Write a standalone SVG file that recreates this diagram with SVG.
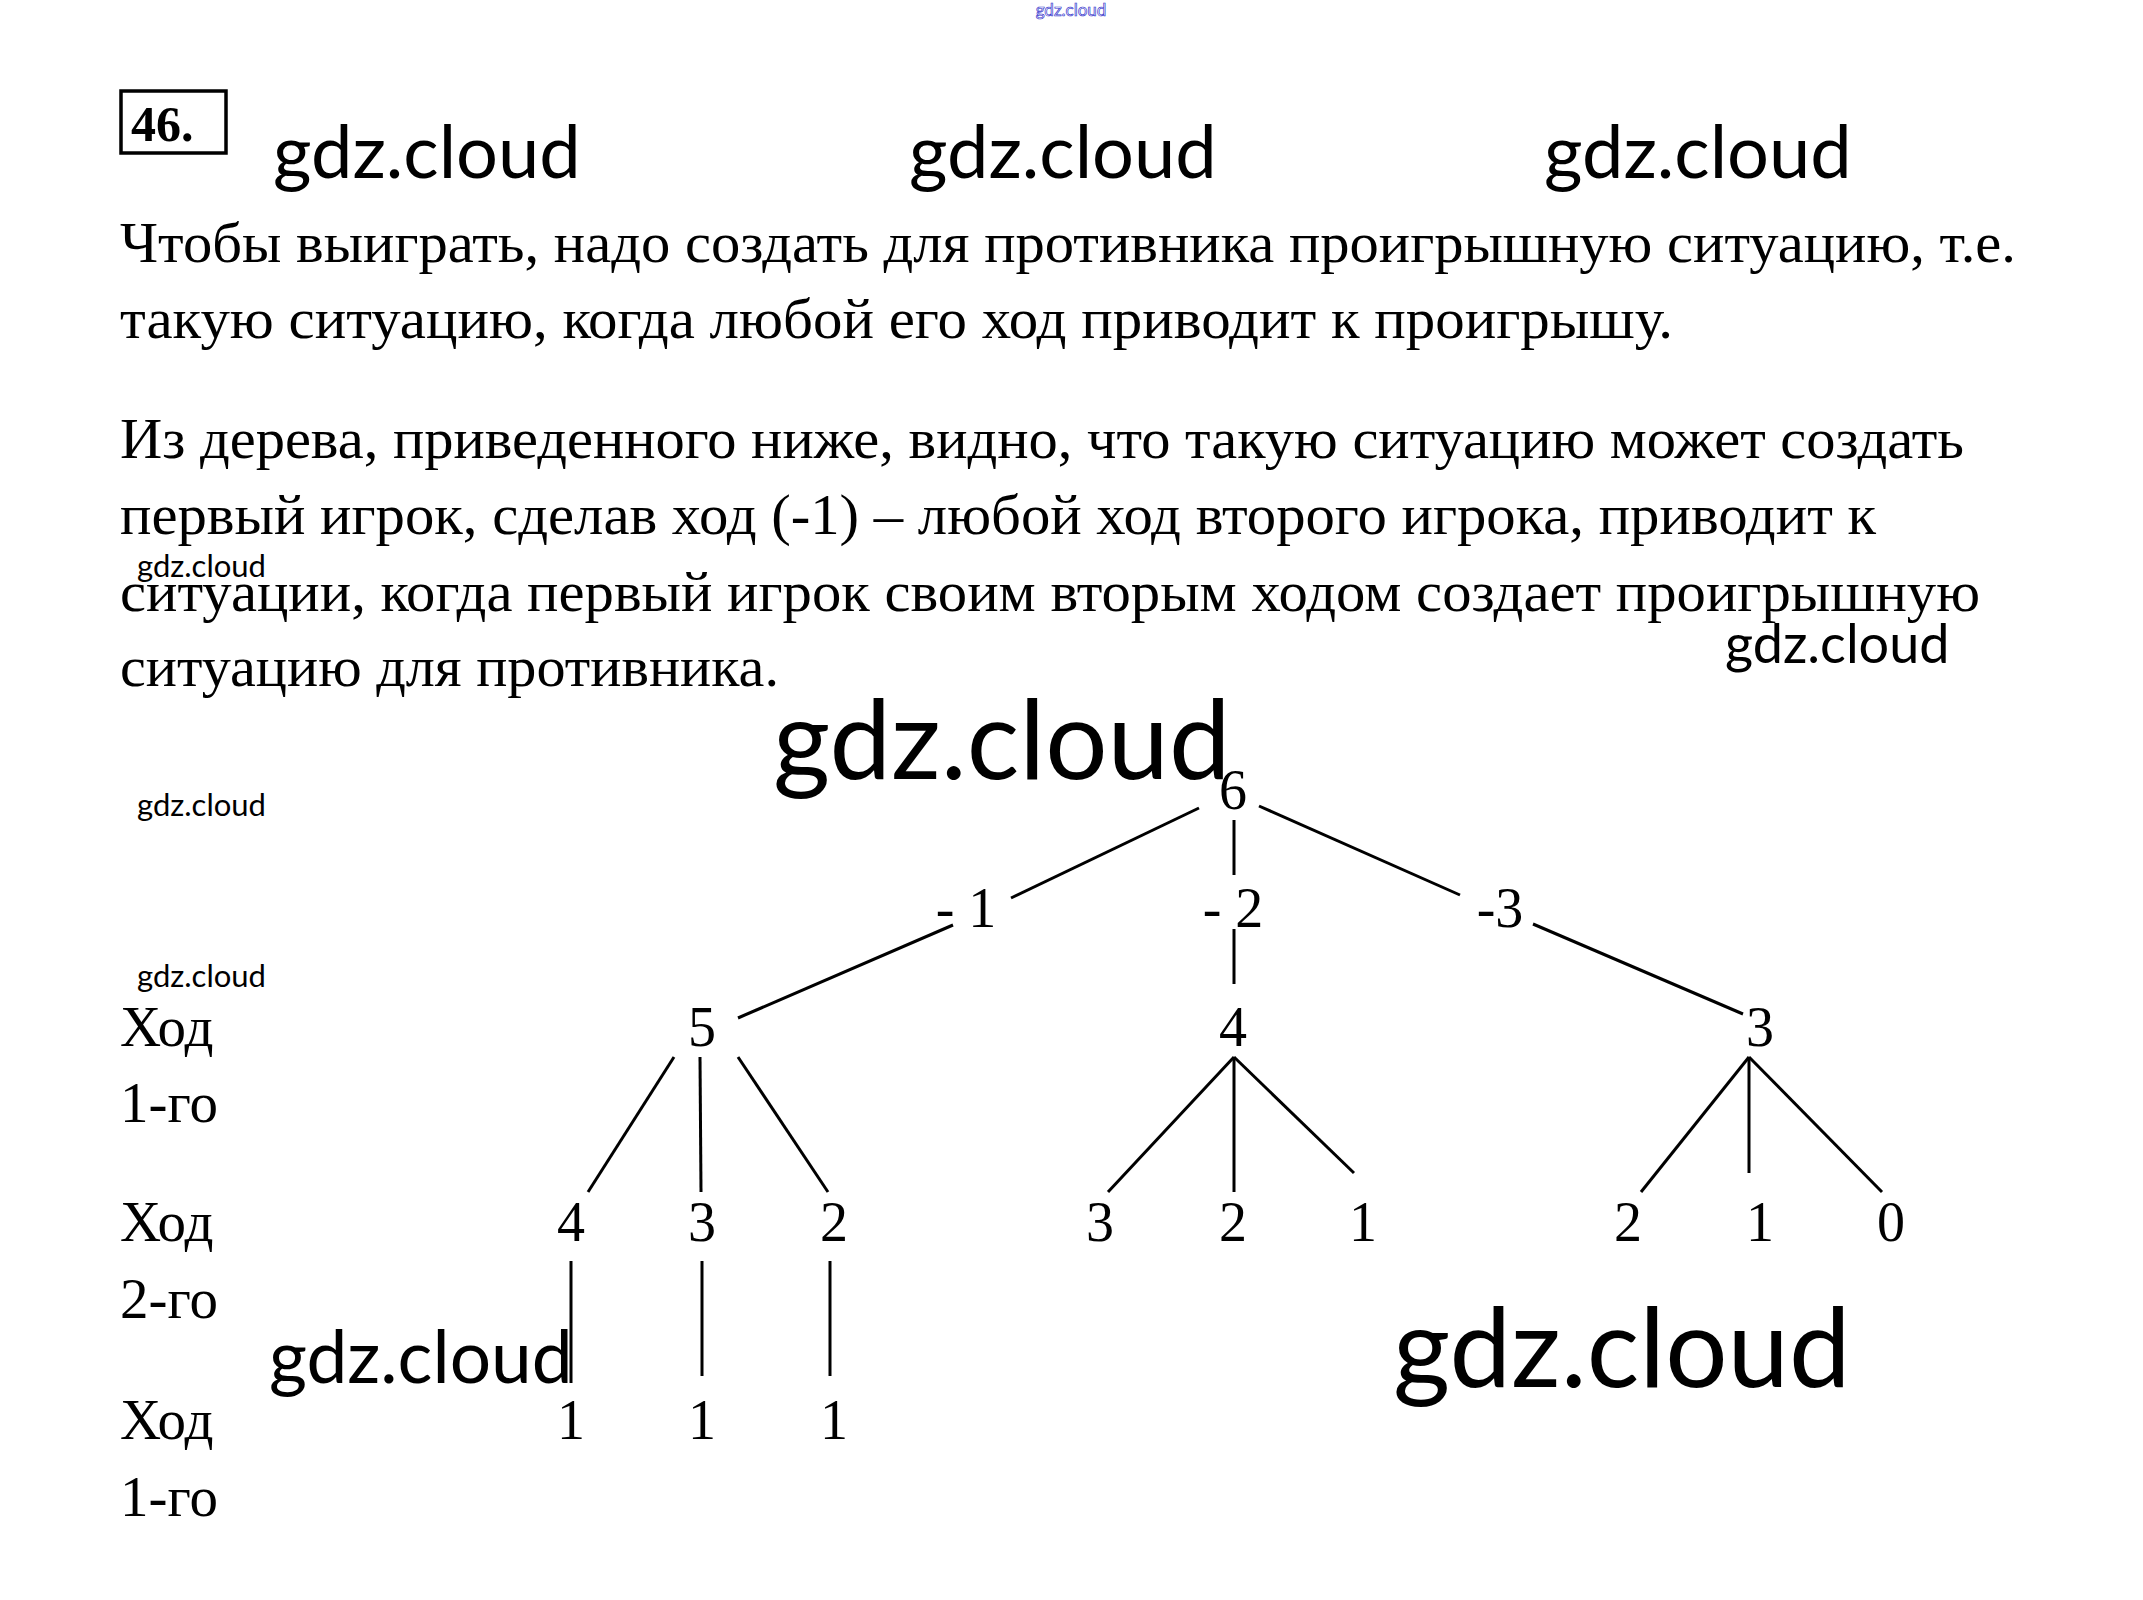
<svg xmlns="http://www.w3.org/2000/svg" width="2143" height="1600" viewBox="0 0 2143 1600">
<style>
.t{font-family:"Liberation Serif","Times New Roman",serif;font-size:57px;fill:#000}
.n{font-family:"Liberation Serif","Times New Roman",serif;font-size:56px;fill:#000;text-anchor:middle}
.w{font-family:Lato,"Open Sans",sans-serif;fill:#000}
.e{stroke:#000;stroke-width:3;fill:none}
</style>
<rect width="2143" height="1600" fill="#fff"/>
<g id="header">
<rect x="121" y="91" width="105" height="62" fill="none" stroke="#000" stroke-width="3.5"/>
<text x="131" y="141" style="font-family:'Liberation Serif',serif;font-size:50px;font-weight:bold">46.</text>
</g>
<g id="watermarks">
<text x="1071" y="16" class="w" style="font-size:17px;fill:none;stroke:#33c;stroke-width:0.7" text-anchor="middle">gdz.cloud</text>
<text x="273" y="178" class="w" font-size="74">gdz.cloud</text>
<text x="909" y="178" class="w" font-size="74">gdz.cloud</text>
<text x="1544" y="178" class="w" font-size="74">gdz.cloud</text>
<text x="137" y="577" class="w" font-size="31">gdz.cloud</text>
<text x="1725" y="663" class="w" font-size="54">gdz.cloud</text>
<text x="773" y="779" class="w" font-size="110">gdz.cloud</text>
<text x="137" y="816" class="w" font-size="31">gdz.cloud</text>
<text x="137" y="987" class="w" font-size="31">gdz.cloud</text>
<text x="269" y="1383" class="w" font-size="73">gdz.cloud</text>
<text x="1393" y="1387" class="w" font-size="110">gdz.cloud</text>
</g>
<g id="paragraph">
<text x="120" y="262" class="t" textLength="1896" lengthAdjust="spacingAndGlyphs">Чтобы выиграть, надо создать для противника проигрышную ситуацию, т.е.</text>
<text x="120" y="338" class="t" textLength="1553" lengthAdjust="spacingAndGlyphs">такую ситуацию, когда любой его ход приводит к проигрышу.</text>
<text x="120" y="458" class="t" textLength="1844" lengthAdjust="spacingAndGlyphs">Из дерева, приведенного ниже, видно, что такую ситуацию может создать</text>
<text x="120" y="534" class="t" textLength="1756" lengthAdjust="spacingAndGlyphs">первый игрок, сделав ход (-1) – любой ход второго игрока, приводит к</text>
<text x="120" y="611" class="t" textLength="1860" lengthAdjust="spacingAndGlyphs">ситуации, когда первый игрок своим вторым ходом создает проигрышную</text>
<text x="120" y="686" class="t" textLength="659" lengthAdjust="spacingAndGlyphs">ситуацию для противника.</text>
</g>
<g id="row-labels">
<text x="120" y="1046" class="t">Ход</text>
<text x="120" y="1122" class="t">1-го</text>
<text x="120" y="1241" class="t">Ход</text>
<text x="120" y="1318" class="t">2-го</text>
<text x="120" y="1439" class="t">Ход</text>
<text x="120" y="1516" class="t">1-го</text>
</g>
<g id="connectors">
<line class="e" x1="1199" y1="808" x2="1011" y2="898"/>
<line class="e" x1="953" y1="925" x2="738" y2="1018"/>
<line class="e" x1="1234" y1="820" x2="1234" y2="875"/>
<line class="e" x1="1234" y1="929" x2="1234" y2="984"/>
<line class="e" x1="1259" y1="806" x2="1460" y2="895"/>
<line class="e" x1="1533" y1="924" x2="1743" y2="1014"/>
<line class="e" x1="674" y1="1057" x2="588" y2="1192"/>
<line class="e" x1="700" y1="1057" x2="701" y2="1192"/>
<line class="e" x1="738" y1="1057" x2="828" y2="1192"/>
<line class="e" x1="1234" y1="1057" x2="1108" y2="1192"/>
<line class="e" x1="1234" y1="1057" x2="1234" y2="1192"/>
<line class="e" x1="1234" y1="1057" x2="1354" y2="1173"/>
<line class="e" x1="1749" y1="1057" x2="1641" y2="1192"/>
<line class="e" x1="1749" y1="1057" x2="1749" y2="1173"/>
<line class="e" x1="1749" y1="1057" x2="1882" y2="1192"/>
<line class="e" x1="571" y1="1261" x2="571" y2="1383"/>
<line class="e" x1="702" y1="1261" x2="702" y2="1376"/>
<line class="e" x1="830" y1="1261" x2="830" y2="1376"/>
</g>
<g id="n-6"><text x="1233" y="809" class="n">6</text></g>
<g id="n-m1"><text x="966" y="927" class="n">- 1</text></g>
<g id="n-m2"><text x="1233" y="927" class="n">- 2</text></g>
<g id="n-m3"><text x="1500" y="927" class="n">-3</text></g>
<g id="n-5"><text x="702" y="1046" class="n">5</text></g>
<g id="n-4"><text x="1233" y="1046" class="n">4</text></g>
<g id="n-3"><text x="1760" y="1046" class="n">3</text></g>
<g id="n-5-4"><text x="571" y="1241" class="n">4</text></g>
<g id="n-5-3"><text x="702" y="1241" class="n">3</text></g>
<g id="n-5-2"><text x="834" y="1241" class="n">2</text></g>
<g id="n-4-3"><text x="1100" y="1241" class="n">3</text></g>
<g id="n-4-2"><text x="1233" y="1241" class="n">2</text></g>
<g id="n-4-1"><text x="1363" y="1241" class="n">1</text></g>
<g id="n-3-2"><text x="1628" y="1241" class="n">2</text></g>
<g id="n-3-1"><text x="1760" y="1241" class="n">1</text></g>
<g id="n-3-0"><text x="1891" y="1241" class="n">0</text></g>
<g id="n-4-1b"><text x="571" y="1439" class="n">1</text></g>
<g id="n-3-1b"><text x="702" y="1439" class="n">1</text></g>
<g id="n-2-1b"><text x="834" y="1439" class="n">1</text></g>
</svg>
